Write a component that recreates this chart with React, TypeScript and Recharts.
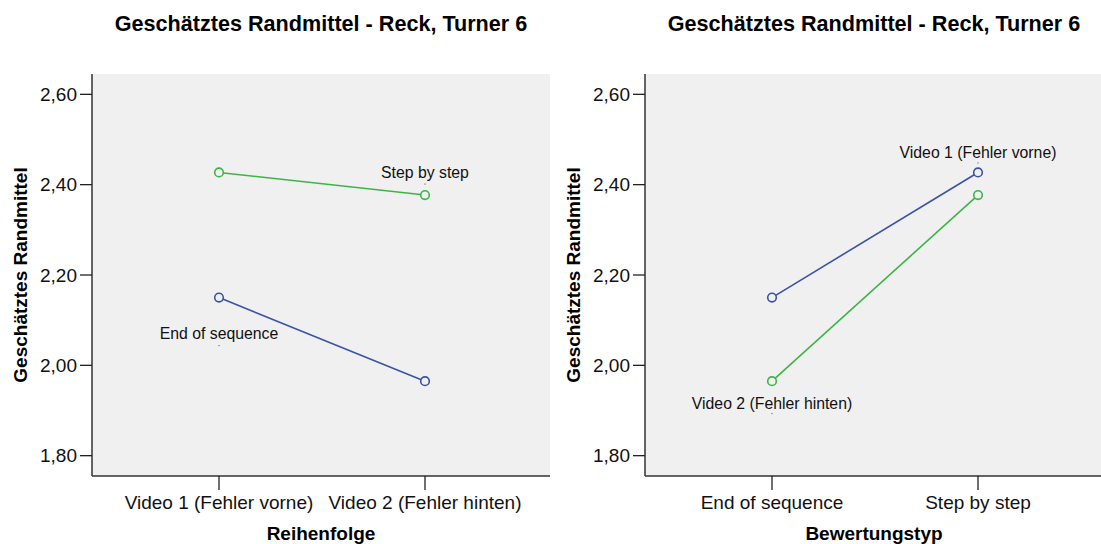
import React from "react";
import {
  LineChart,
  Line,
  XAxis,
  YAxis,
  CartesianGrid,
  LabelList
} from "recharts";

// categories
const reihenfolge = ["Video 1 (Fehler vorne)", "Video 2 (Fehler hinten)"];
const bewertungstyp = ["End of sequence", "Step by step"];

// estimated marginal means, indexed by reihenfolge
const endOfSequence = [2.15, 1.965];
const stepByStep = [2.427, 2.377];

const yTicks = [1.8, 2.0, 2.2, 2.4, 2.6];
const yDomain = [1.755, 2.645];

const title = "Geschätztes Randmittel - Reck, Turner 6";
const yTitle = "Geschätztes Randmittel";

const BLUE = "#3b52a8";
const GREEN = "#3cb546";
const FONT = '"Liberation Sans", Arial, sans-serif';

// left: x = Reihenfolge, lines = Bewertungstyp
const leftData = reihenfolge.map((cat, i) => ({
  cat,
  blue: endOfSequence[i],
  green: stepByStep[i],
  blueLabel: i === 0 ? bewertungstyp[0] : "",
  greenLabel: i === 1 ? bewertungstyp[1] : ""
}));

// right: x = Bewertungstyp, lines = Reihenfolge
const rightData = bewertungstyp.map((cat, j) => {
  const vals = j === 0 ? endOfSequence : stepByStep;
  return {
    cat,
    blue: vals[0],
    green: vals[1],
    blueLabel: j === 1 ? reihenfolge[0] : "",
    greenLabel: j === 0 ? reihenfolge[1] : ""
  };
});

const fmt = (v: number) => v.toFixed(2).replace(".", ",");

const makeLabel = (textDy: number, dotDy: number) => (props: any) => {
  const { x, y, value } = props;
  if (!value) return null;
  return (
    <g>
      <text
        x={x}
        y={y + textDy}
        textAnchor="middle"
        dominantBaseline="central"
        fontSize={15.8}
        fill="#111"
      >
        {value}
      </text>
      <rect x={x - 0.5} y={y + dotDy} width={1} height={1} fill="#444" />
    </g>
  );
};

interface PanelProps {
  data: any[];
  xTitle: string;
  left: number;
  blueDy: [number, number];
  greenDy: [number, number];
}

const frame = { stroke: "#333", strokeWidth: 1.5 };
const tickLine = { stroke: "#222", strokeWidth: 1.3 };

const Panel = ({ data, xTitle, left, blueDy, greenDy }: PanelProps) => (
  <div style={{ position: "absolute", left, top: 0, width: 553, height: 544 }}>
    <div
      style={{
        position: "absolute",
        left: 72,
        width: 498,
        top: 11,
        textAlign: "center",
        fontWeight: "bold",
        fontSize: 21.6,
        color: "#000"
      }}
    >
      {title}
    </div>
    <LineChart
      width={553}
      height={544}
      data={data}
      margin={{ top: 74, right: 3, left: 0, bottom: 0 }}
    >
      <CartesianGrid fill="#f0f0f0" horizontal={false} vertical={false} />
      <XAxis
        dataKey="cat"
        scale="point"
        padding={{ left: 127, right: 125 }}
        height={68}
        axisLine={frame}
        tickSize={14}
        tickMargin={6}
        tickLine={tickLine}
        tick={{ fill: "#111", fontSize: 19 }}
        label={{
          value: xTitle,
          position: "insideBottom",
          offset: 4,
          style: { fontWeight: "bold", fontSize: 19, fill: "#000" }
        }}
      />
      <XAxis
        xAxisId="top"
        orientation="top"
        dataKey="cat"
        scale="point"
        padding={{ left: 127, right: 125 }}
        height={0}
        axisLine={frame}
        tick={false}
        tickLine={false}
      />
      <YAxis
        type="number"
        domain={yDomain}
        ticks={yTicks}
        allowDataOverflow
        width={92}
        axisLine={frame}
        tickSize={12}
        tickMargin={3}
        tickLine={tickLine}
        tickFormatter={fmt}
        tick={{ fill: "#111", fontSize: 19 }}
        label={{
          value: yTitle,
          angle: -90,
          position: "insideLeft",
          offset: 20,
          style: { textAnchor: "middle", fontWeight: "bold", fontSize: 19, fill: "#000" }
        }}
      />
      <YAxis
        yAxisId="right"
        orientation="right"
        type="number"
        domain={yDomain}
        allowDataOverflow
        width={0}
        axisLine={frame}
        tick={false}
        tickLine={false}
      />
      <Line
        dataKey="green"
        stroke={GREEN}
        strokeWidth={1.6}
        dot={{ r: 4.3, fill: "#f0f0f0", stroke: GREEN, strokeWidth: 1.6 }}
        isAnimationActive={false}
      >
        <LabelList dataKey="greenLabel" content={makeLabel(greenDy[0], greenDy[1])} />
      </Line>
      <Line
        dataKey="blue"
        stroke={BLUE}
        strokeWidth={1.6}
        dot={{ r: 4.3, fill: "#f0f0f0", stroke: BLUE, strokeWidth: 1.6 }}
        isAnimationActive={false}
      >
        <LabelList dataKey="blueLabel" content={makeLabel(blueDy[0], blueDy[1])} />
      </Line>
    </LineChart>
  </div>
);

export default function App() {
  return (
    <div
      style={{
        position: "fixed",
        left: 0,
        top: 0,
        width: 1101,
        height: 544,
        overflow: "hidden",
        background: "#fff",
        fontFamily: FONT
      }}
    >
      <Panel data={leftData} xTitle="Reihenfolge" left={0} blueDy={[35.5, 47.5]} greenDy={[-22.5, -11.5]} />
      <Panel data={rightData} xTitle="Bewertungstyp" left={553} blueDy={[-20, -10]} greenDy={[22, 32]} />
    </div>
  );
}
